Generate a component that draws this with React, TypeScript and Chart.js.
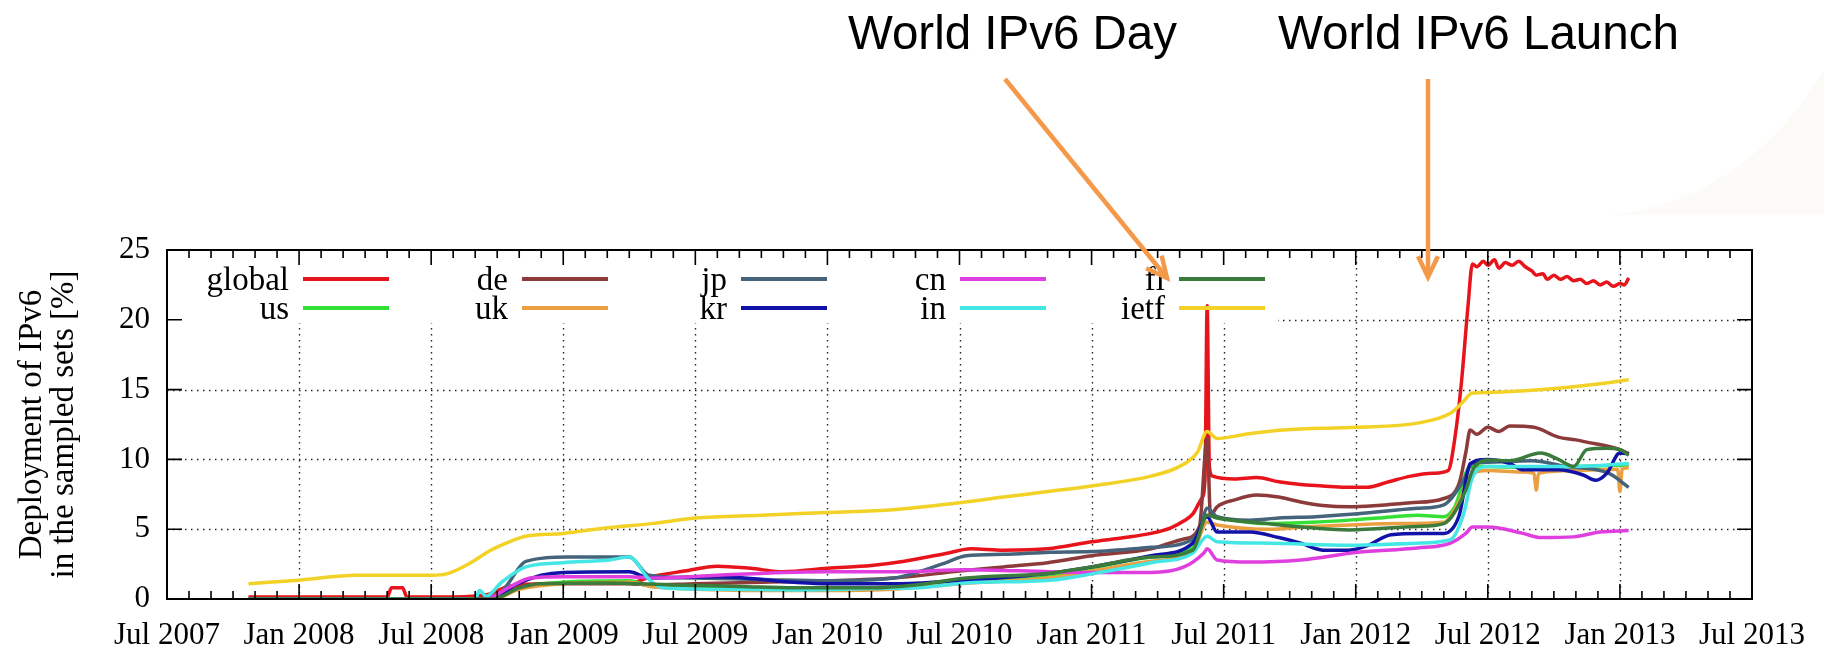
import React, { useEffect, useRef } from 'react';
import { Chart, registerables } from 'chart.js';

Chart.register(...registerables);

// x values are months since Jul 2007
const tickLabels = ['Jul 2007', 'Jan 2008', 'Jul 2008', 'Jan 2009', 'Jul 2009', 'Jan 2010', 'Jul 2010', 'Jan 2011', 'Jul 2011', 'Jan 2012', 'Jul 2012', 'Jan 2013', 'Jul 2013'];
const yTicks = [0, 5, 10, 15, 20, 25];

const seriesNames = ['global', 'us', 'de', 'uk', 'jp', 'kr', 'cn', 'in', 'fi', 'ietf'];
const seriesColors = ['#e8141c', '#33e033', '#8c3a3a', '#eaa040', '#45647c', '#1212a8', '#df3fdf', '#44e6e6', '#3b7b3b', '#f2d226'];

const globalData: [number, number][] = [[3.7, 0.15], [6, 0.15], [10, 0.15], [10.2, 0.8], [10.7, 0.8], [10.9, 0.15], [13, 0.15], [14.5, 0.3], [15.5, 0.9], [17, 1.1], [19, 1.15], [21, 1.15], [22, 1.6], [23.5, 2.0], [25, 2.35], [26.5, 2.2], [28, 1.95], [30, 2.2], [32, 2.4], [33.5, 2.7], [35.5, 3.3], [36.5, 3.6], [38, 3.5], [40, 3.6], [42, 4.1], [43.5, 4.4], [44.7, 4.7], [45.6, 5.1], [46.2, 5.6], [46.6, 6.1], [47.0, 7.2], [47.15, 8.5], [47.25, 21], [47.35, 9.5], [47.5, 8.8], [48.5, 8.6], [49.5, 8.7], [50.5, 8.4], [51.5, 8.2], [52.5, 8.1], [53.5, 8.0], [54.5, 8.0], [55.5, 8.4], [56.5, 8.8], [57.5, 9.0], [58.2, 9.2], [58.5, 11.5], [58.8, 15.5], [59.1, 21], [59.3, 24.0], [59.5, 23.8], [59.8, 24.2], [60, 23.9], [60.3, 24.3], [60.5, 23.7], [60.8, 24.1], [61.1, 23.9], [61.4, 24.2], [61.7, 23.8], [62, 23.5], [62.2, 23.2], [62.5, 23.3], [62.7, 22.9], [63, 23.2], [63.3, 22.9], [63.6, 23.1], [63.9, 22.8], [64.2, 22.9], [64.5, 22.6], [64.8, 22.8], [65.1, 22.5], [65.4, 22.7], [65.7, 22.4], [66, 22.6], [66.2, 22.5], [66.4, 23.0]];
const usData: [number, number][] = [[3.7, 0], [14.8, 0], [16, 0.8], [18, 1.2], [21, 1.3], [22, 0.9], [24, 0.8], [28, 0.8], [30, 0.75], [33, 0.85], [36, 1.2], [40, 1.6], [42, 2.2], [44.7, 3.0], [46.6, 3.65], [47.25, 6.0], [47.7, 5.85], [50, 5.4], [52, 5.5], [53.7, 5.65], [55, 5.8], [56.8, 6.0], [58, 5.9], [58.5, 6.6], [59.2, 9.5], [60, 9.5], [62, 9.4], [64, 9.5], [66.4, 9.6]];
const deData: [number, number][] = [[3.7, 0], [14, 0], [15.5, 0.6], [16.5, 1.0], [18, 1.1], [21, 1.1], [22, 1.0], [24, 1.1], [27, 1.2], [30, 1.3], [33, 1.5], [36, 2.0], [38, 2.3], [40, 2.6], [42, 3.1], [44.7, 3.6], [46.2, 4.3], [46.9, 5.2], [47.25, 11.5], [47.4, 6.0], [47.7, 6.6], [48.5, 7.1], [49.5, 7.45], [50.5, 7.3], [51.5, 6.95], [52.5, 6.7], [53.7, 6.6], [55, 6.7], [56.5, 6.9], [58, 7.2], [58.7, 8.3], [59.0, 10.5], [59.2, 12.1], [59.5, 11.8], [60, 12.3], [60.5, 12.0], [61, 12.4], [62.1, 12.3], [63.2, 11.6], [64, 11.4], [64.6, 11.2], [65.3, 11.0], [66, 10.7], [66.4, 10.4]];
const ukData: [number, number][] = [[3.7, 0], [14.8, 0], [16, 0.7], [18, 1.1], [21, 1.2], [22, 0.9], [24, 0.7], [28, 0.6], [30, 0.6], [33, 0.7], [36, 1.1], [40, 1.5], [42, 2.0], [44.7, 2.7], [46.6, 3.4], [47.25, 5.5], [47.7, 5.3], [50, 5.0], [52, 5.2], [53.7, 5.3], [56, 5.4], [58, 5.5], [58.7, 7.0], [59.3, 9.0], [60, 9.2], [61.5, 9.1], [62.1, 9.0], [62.2, 7.8], [62.3, 9.0], [64, 9.2], [65.9, 9.3], [66, 7.7], [66.1, 9.3], [66.4, 9.4]];
const jpData: [number, number][] = [[3.7, 0], [14.8, 0], [15.4, 0.9], [16.3, 2.7], [18.2, 3.0], [21, 3.0], [21.9, 1.7], [24, 1.5], [27, 1.4], [30, 1.3], [33, 1.5], [35.3, 2.55], [36.3, 3.1], [38, 3.2], [40.1, 3.35], [42, 3.4], [44.7, 3.7], [46.2, 4.0], [46.9, 4.9], [47.25, 6.5], [47.7, 5.9], [49.2, 5.65], [50.5, 5.8], [52.2, 5.9], [54.1, 6.1], [56.8, 6.5], [58, 6.75], [58.9, 8.5], [59.3, 9.7], [60, 9.8], [62, 9.9], [63.5, 9.5], [65.5, 9.0], [66.4, 8.0]];
const krData: [number, number][] = [[3.7, 0], [14.8, 0], [15.8, 1.0], [17, 1.7], [18, 1.9], [21, 1.95], [21.9, 1.5], [25.1, 1.6], [28.5, 1.2], [30.1, 1.1], [33.3, 1.1], [36.3, 1.35], [40.1, 1.85], [42, 2.3], [44.7, 3.1], [46.6, 4.0], [47.25, 5.9], [47.7, 4.8], [49.2, 4.8], [50.5, 4.4], [51.5, 4.0], [52.5, 3.5], [53.7, 3.5], [54.5, 3.8], [55.6, 4.6], [57, 4.7], [58, 4.7], [58.7, 6.0], [59.2, 9.7], [60, 10.0], [61, 9.7], [61.6, 9.25], [63.2, 9.25], [64.3, 8.9], [64.9, 8.5], [65.4, 9.0], [66, 10.45], [66.4, 10.4]];
const cnData: [number, number][] = [[3.7, 0], [14.5, 0], [15.5, 0.8], [16.5, 1.5], [18, 1.6], [21, 1.6], [22, 1.5], [25, 1.7], [28, 1.9], [30, 1.95], [33.3, 1.95], [36.3, 2.1], [40.1, 1.95], [42, 1.9], [44.7, 1.9], [46.2, 2.3], [47.1, 3.3], [47.25, 3.6], [47.7, 2.8], [49.2, 2.65], [51.5, 2.8], [54.1, 3.35], [56.8, 3.65], [58.3, 4.0], [59, 4.7], [59.3, 5.15], [60, 5.15], [61.6, 4.7], [62.4, 4.4], [63.9, 4.45], [65.1, 4.8], [66.4, 4.9]];
const inData: [number, number][] = [[3.7, 0], [14, 0], [14.2, 0.6], [14.5, 0.2], [15.2, 1.2], [16.3, 2.3], [18, 2.6], [20.1, 2.8], [21, 3.0], [21.9, 1.4], [22.5, 0.8], [25, 0.7], [28.5, 0.65], [32, 0.75], [34.5, 0.85], [36.3, 1.15], [40.1, 1.35], [42, 1.8], [44.7, 2.6], [46.6, 3.3], [47.25, 4.5], [47.7, 4.1], [50, 4.0], [53.7, 3.85], [56.8, 4.0], [58.3, 4.25], [58.9, 6.1], [59.3, 8.7], [60, 9.5], [62, 9.5], [64, 9.5], [66.4, 9.7]];
const fiData: [number, number][] = [[3.7, 0], [14.8, 0], [16, 0.8], [17, 1.1], [20, 1.15], [23, 1.0], [26, 0.9], [28.5, 0.8], [32, 0.8], [34, 1.0], [36.3, 1.5], [40.1, 1.85], [42, 2.3], [44.7, 3.0], [46.6, 3.5], [47.25, 6.0], [47.7, 5.8], [50, 5.4], [52, 5.1], [53.7, 4.95], [56.8, 5.2], [58, 5.4], [59, 7.8], [59.3, 9.2], [60, 9.95], [61, 9.9], [62.4, 10.45], [63.2, 10.0], [63.9, 9.5], [64.5, 10.7], [65.4, 10.8], [66, 10.7], [66.4, 10.3]];
const ietfData: [number, number][] = [[3.7, 1.1], [6, 1.35], [8.6, 1.7], [12, 1.7], [12.7, 1.8], [13.8, 2.6], [14.6, 3.4], [15.4, 4.0], [16.3, 4.5], [18, 4.7], [20, 5.1], [22, 5.4], [24, 5.8], [27, 6.0], [30, 6.2], [33, 6.4], [36, 6.9], [38, 7.3], [40, 7.7], [42, 8.1], [44.7, 8.8], [46, 9.5], [46.8, 10.5], [47.25, 12.0], [47.7, 11.5], [49, 11.8], [50.7, 12.1], [54, 12.3], [56.8, 12.6], [58.3, 13.3], [58.8, 14.0], [59.3, 14.75], [60, 14.8], [61.5, 14.9], [63.2, 15.1], [65, 15.4], [66.4, 15.7]];

const seriesData = [globalData, usData, deData, ukData, jpData, krData, cnData, inData, fiData, ietfData];

const annotationTexts = ['World IPv6 Day', 'World IPv6 Launch'];

const SERIF = "'Liberation Serif', 'DejaVu Serif', serif";
const SANS = "'Liberation Sans', Arial, sans-serif";
const ARROW = '#f4994a';

const gnuplotPlugin = {
  id: 'gnuplotLook',
  beforeDatasetsDraw(chart: any) {
    const { ctx, chartArea: a, scales } = chart;
    const x = scales.x;
    const y = scales.y;
    ctx.save();
    ctx.strokeStyle = '#222';
    ctx.lineWidth = 1.4;
    ctx.setLineDash([1.5, 4.5]);
    yTicks.slice(1, -1).forEach((v) => {
      const py = Math.round(y.getPixelForValue(v)) + 0.5;
      ctx.beginPath();
      ctx.moveTo(a.left, py);
      ctx.lineTo(a.right, py);
      ctx.stroke();
    });
    tickLabels.slice(1, -1).forEach((_, i) => {
      const px = Math.round(x.getPixelForValue((i + 1) * 6)) + 0.5;
      ctx.beginPath();
      ctx.moveTo(px, a.top);
      ctx.lineTo(px, a.bottom);
      ctx.stroke();
    });
    ctx.setLineDash([]);
    // legend box (white, hides grid)
    ctx.fillStyle = '#ffffff';
    ctx.fillRect(a.left + 1, a.top + 1, 1110, 72);
    ctx.restore();
  },
  afterDatasetsDraw(chart: any) {
    const { ctx, chartArea: a, scales } = chart;
    const x = scales.x;
    const y = scales.y;
    ctx.save();
    // legend
    ctx.font = `33px ${SERIF}`;
    ctx.textAlign = 'right';
    ctx.textBaseline = 'alphabetic';
    seriesNames.forEach((name, i) => {
      const col = Math.floor(i / 2);
      const row = i % 2;
      const sx = a.left + 136 + col * 219;
      const sy = a.top + 29 + row * 29;
      ctx.fillStyle = '#000';
      ctx.fillText(name, sx - 14, sy + 11);
      ctx.strokeStyle = seriesColors[i];
      ctx.lineWidth = 4;
      ctx.beginPath();
      ctx.moveTo(sx, sy);
      ctx.lineTo(sx + 86, sy);
      ctx.stroke();
    });
    // border
    ctx.strokeStyle = '#000';
    ctx.lineWidth = 2;
    ctx.strokeRect(a.left, a.top, a.right - a.left, a.bottom - a.top);
    // ticks
    ctx.lineWidth = 1.6;
    for (let m = 0; m <= 72; m += 1) {
      const px = x.getPixelForValue(m);
      const len = m % 6 === 0 ? 15 : 8;
      ctx.beginPath();
      ctx.moveTo(px, a.bottom);
      ctx.lineTo(px, a.bottom - len);
      ctx.moveTo(px, a.top);
      ctx.lineTo(px, a.top + len);
      ctx.stroke();
    }
    yTicks.forEach((v) => {
      const py = y.getPixelForValue(v);
      ctx.beginPath();
      ctx.moveTo(a.left, py);
      ctx.lineTo(a.left + 15, py);
      ctx.moveTo(a.right, py);
      ctx.lineTo(a.right - 15, py);
      ctx.stroke();
    });
    ctx.restore();
  },
  afterDraw(chart: any) {
    const { ctx } = chart;
    ctx.save();
    // faint background shape
    ctx.fillStyle = '#fcfbf7';
    ctx.beginPath();
    ctx.moveTo(1610, 215);
    ctx.quadraticCurveTo(1745, 200, 1824, 70);
    ctx.lineTo(1824, 215);
    ctx.closePath();
    ctx.fill();
    // annotation texts
    ctx.fillStyle = '#000';
    ctx.font = `48px ${SANS}`;
    ctx.textAlign = 'left';
    ctx.textBaseline = 'alphabetic';
    ctx.fillText(annotationTexts[0], 848, 49, 329);
    ctx.fillText(annotationTexts[1], 1278, 49, 401);
    // arrows
    const arrow = (x1: number, y1: number, x2: number, y2: number) => {
      ctx.strokeStyle = ARROW;
      ctx.lineWidth = 4.5;
      ctx.lineCap = 'butt';
      ctx.beginPath();
      ctx.moveTo(x1, y1);
      ctx.lineTo(x2, y2);
      ctx.stroke();
      const ang = Math.atan2(y2 - y1, x2 - x1);
      const L = 23;
      const spread = 0.45;
      ctx.beginPath();
      ctx.moveTo(x2 - L * Math.cos(ang - spread), y2 - L * Math.sin(ang - spread));
      ctx.lineTo(x2, y2);
      ctx.lineTo(x2 - L * Math.cos(ang + spread), y2 - L * Math.sin(ang + spread));
      ctx.stroke();
    };
    arrow(1005, 79, 1167, 278);
    arrow(1428, 79, 1428, 277);
    ctx.restore();
  },
};

export default function App() {
  const canvasRef = useRef<HTMLCanvasElement | null>(null);

  useEffect(() => {
    document.body.style.margin = '0';
    const canvas = canvasRef.current;
    if (!canvas) return;
    const tickFont = { family: SERIF, size: 31 };
    const chart = new Chart(canvas, {
      type: 'line',
      data: {
        datasets: seriesNames.map((name, i) => ({
          label: name,
          data: seriesData[i].map(([m, v]) => ({ x: m, y: v })),
          borderColor: seriesColors[i],
          backgroundColor: seriesColors[i],
          borderWidth: 3.5,
          pointRadius: 0,
          fill: false,
          cubicInterpolationMode: 'monotone' as const,
          order: seriesNames.length - i,
        })),
      },
      options: {
        responsive: false,
        animation: false,
        events: [],
        layout: { padding: { top: 250, right: 72, left: 0, bottom: 0 } },
        plugins: {
          legend: { display: false },
          tooltip: { enabled: false },
        },
        scales: {
          x: {
            type: 'linear',
            min: 0,
            max: 72,
            afterBuildTicks: (s: any) => {
              s.ticks = tickLabels.map((_, i) => ({ value: i * 6 }));
            },
            afterFit: (s: any) => {
              s.height = 56;
            },
            ticks: {
              callback: (v: any) => tickLabels[Math.round(Number(v) / 6)],
              font: tickFont,
              color: '#000',
              padding: 18,
              maxRotation: 0,
              autoSkip: false,
            },
            grid: { display: false, drawTicks: false },
            border: { display: false },
          },
          y: {
            min: 0,
            max: 25,
            afterBuildTicks: (s: any) => {
              s.ticks = yTicks.map((v) => ({ value: v }));
            },
            afterFit: (s: any) => {
              s.width = 167;
            },
            ticks: {
              font: tickFont,
              color: '#000',
              padding: 17,
            },
            grid: { display: false, drawTicks: false },
            border: { display: false },
            title: {
              display: true,
              text: ['Deployment of IPv6', 'in the sampled sets [%]'],
              font: { family: SERIF, size: 33, lineHeight: 0.95 },
              color: '#000',
              padding: { top: 17, bottom: 0 },
            },
          },
        },
      },
      plugins: [gnuplotPlugin],
    } as any);
    return () => chart.destroy();
  }, []);

  return (
    <div style={{ width: 1824, height: 655, background: '#fff' }}>
      <canvas ref={canvasRef} width={1824} height={655} style={{ display: 'block' }} />
    </div>
  );
}
